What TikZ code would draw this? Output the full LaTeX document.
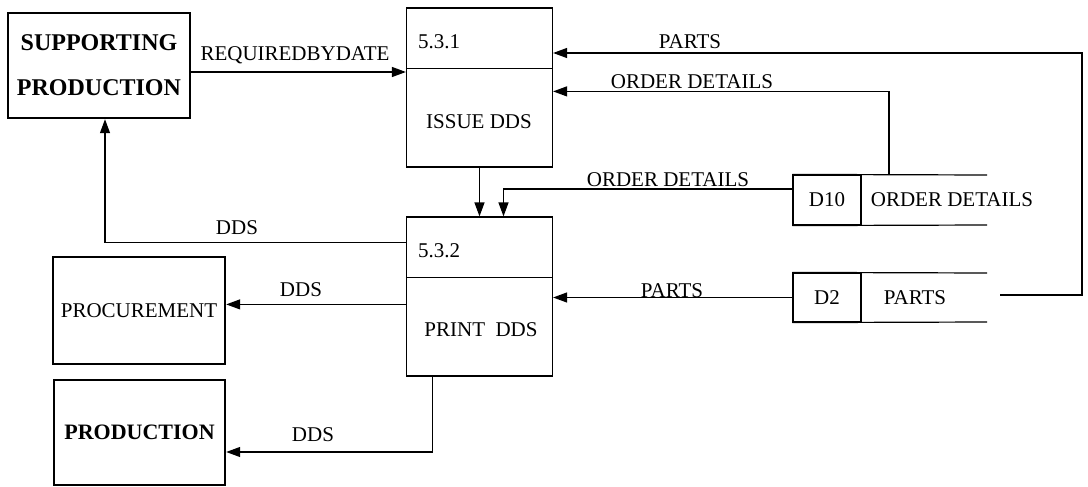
\documentclass[tikz,border=0pt]{standalone}
\usepackage{fontspec}
\setmainfont{Liberation Serif}
\usetikzlibrary{arrows.meta}

\tikzset{
  ext/.style={draw, line width=2.4pt, inner sep=0pt, align=center},
  proc/.style={draw, line width=1.2pt, inner sep=0pt, minimum width=146pt, minimum height=159pt},
  storeid/.style={draw, line width=1.2pt, inner sep=0pt, minimum width=68pt},
  flow/.style={line width=1.2pt, -{Triangle[length=14pt,width=10pt]}},
  lbl/.style={inner sep=0pt},
}

\begin{document}
\begin{tikzpicture}[x=1pt,y=-1pt,font=\fontsize{21}{25}\selectfont]
\useasboundingbox (0,0) rectangle (1088,487);

%External entities
\node[ext, minimum width=182pt, minimum height=105pt, font=\fontsize{24}{45}\selectfont\bfseries] (sp) at (99,65.5) {SUPPORTING\\PRODUCTION};
\node[ext, minimum width=172pt, minimum height=107pt] (proc) at (139,310.5) {PROCUREMENT};
\node[ext, minimum width=171pt, minimum height=105pt, font=\fontsize{22}{25}\selectfont\bfseries] (prod) at (139.5,432.5) {PRODUCTION};

%Processes
\node[proc] (p1) at (479.5,87.5) {};
\draw[line width=1.2pt] ([yshift=-61pt]p1.north west) -- ([yshift=-61pt]p1.north east);
\node[lbl, anchor=west] (p1num) at (418,42) {5.3.1};
\node[lbl] (p1name) at (479,122) {ISSUE DDS};

\node[proc] (p2) at (479.5,296.5) {};
\draw[line width=1.2pt] ([yshift=-61pt]p2.north west) -- ([yshift=-61pt]p2.north east);
\node[lbl, anchor=west] (p2num) at (418,251) {5.3.2};
\node[lbl] (p2name) at (481,330) {PRINT\ \ DDS};

%Data stores
\node[storeid, minimum height=50pt] (d10) at (827,200) {D10};
\draw[line width=1.2pt] (d10.north west) -- (987,175);
\draw[line width=1.2pt] (d10.south west) -- (987,225);
\node[lbl] (d10name) at (952,200) {ORDER DETAILS};

\node[storeid, minimum height=49pt] (d2) at (827,297.5) {D2};
\draw[line width=1.2pt] (d2.north west) -- (987,273);
\draw[line width=1.2pt] (d2.south west) -- (987,322);
\node[lbl] (d2name) at (915,298) {PARTS};

%Flows
\coordinate (d10top) at (889,175);
\coordinate (d2out) at (1000,295);
\coordinate (partsbend) at (1082,53);

\draw[flow] ([yshift=-6.5pt]sp.east) -- ([yshift=-6.5pt]sp.east -| p1.west);
\draw[flow] (d2out) -| (partsbend) -- (partsbend -| p1.east);
\draw[flow] (d10top) |- ([yshift=-84pt]p1.north east);
\draw[flow] ([yshift=11pt]d10.west) -| ([xshift=24pt]p2.north);
\draw[flow] (p1.south) -- (p2.north);
\draw[flow] ([yshift=-26pt]p2.north west) -| ([xshift=6pt]sp.south);
\draw[flow] ([yshift=-88pt]p2.north west) -- ([yshift=-88pt]p2.north west -| proc.east);
\draw[flow] ([xshift=-47pt]p2.south) |- ([yshift=-19.5pt]prod.east);
\draw[flow] (d2.west) -- (d2.west -| p2.east);

%Flow labels
\node[lbl] (lreq) at (295,55) {REQUIREDBYDATE};
\node[lbl] (lparts1) at (690,42) {PARTS};
\node[lbl] (lod1) at (692,82) {ORDER DETAILS};
\node[lbl] (lod2) at (668,180) {ORDER DETAILS};
\node[lbl] (ldds1) at (237,228) {DDS};
\node[lbl] (ldds2) at (301,290) {DDS};
\node[lbl] (ldds3) at (313,435) {DDS};
\node[lbl] (lparts2) at (672,291) {PARTS};

\end{tikzpicture}
\end{document}
